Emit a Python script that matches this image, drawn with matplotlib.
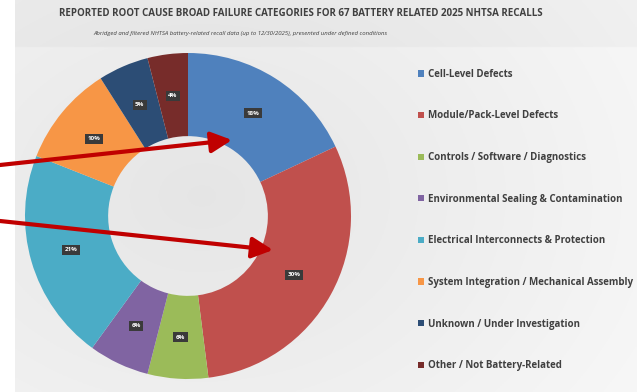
import numpy as np
import matplotlib
matplotlib.use("Agg")
from matplotlib import pyplot as plt

categories = ['Cell-Level Defects', 'Module/Pack-Level Defects', 'Controls / Software / Diagnostics',
              'Environmental Sealing & Contamination', 'Electrical Interconnects & Protection',
              'System Integration / Mechanical Assembly', 'Unknown / Under Investigation',
              'Other / Not Battery-Related']
shares = [18, 30, 6, 6, 21, 10, 5, 4]
colors = ['#4f81bd', '#c0504d', '#9bbb59', '#8064a2', '#4bacc6', '#f79646', '#2c4d75', '#772c2a']

title = 'REPORTED ROOT CAUSE BROAD FAILURE CATEGORIES FOR 67 BATTERY RELATED 2025 NHTSA RECALLS'
subtitle = 'Abridged and filtered NHTSA battery-related recall data (up to 12/30/2025), presented under defined conditions'

plt.rcParams['font.family'] = ['Open Sans', 'DejaVu Sans']

W, H = 637, 392
fig = plt.figure(figsize=(W / 100, H / 100), dpi=100)
fig.patch.set_facecolor('white')

# background gradient (slide look)
bg = fig.add_axes([15 / W, 0, 1 - 15 / W, 1])
yy, xx = np.mgrid[0:1:200j, 0:1:300j]
g = 0.90 + 0.07 * np.clip(np.hypot((xx - 0.3) * 1.2, (yy - 0.5)), 0, 1)
g[yy > 0.88] -= 0.025
bg.imshow(np.dstack([g, g, g]), extent=[0, 1, 0, 1], aspect='auto', origin='lower',
          vmin=0, vmax=1)
bg.axis('off')

fig.text(301 / W, 1 - 14 / H, title, ha='center', va='center', fontsize=7,
         fontweight='bold', color='#404040')
fig.text(240 / W, 1 - 34 / H, subtitle, ha='center', va='center', fontsize=4.3,
         style='italic', color='#404040')

# donut
ax = fig.add_axes([25 / W, 13 / H, 326 / W, 326 / H])
wedges, _ = ax.pie(shares, colors=colors, startangle=90, counterclock=False,
                   radius=1, wedgeprops=dict(width=0.51, edgecolor='none'))
ax.set_xlim(-1, 1)
ax.set_ylim(-1, 1)
ax.set_aspect('equal')
ax.axis('off')

for w, v in zip(wedges, shares):
    mid = np.deg2rad((w.theta1 + w.theta2) / 2)
    r = 0.745
    ax.text(r * np.cos(mid), r * np.sin(mid), f'{v}%', ha='center', va='center',
            fontsize=4.5, fontweight='bold', color='white',
            bbox=dict(boxstyle='square,pad=0.4', fc='#3a3a3a', ec='none'))

# red arrows
arrow = dict(arrowstyle='-|>,head_length=0.9,head_width=0.45', color='#c00000',
             lw=3, mutation_scale=14, shrinkA=0, shrinkB=0)
fig.add_artist(matplotlib.patches.FancyArrowPatch((0, (H - 165) / H), (232 / W, (H - 140) / H),
                                                  transform=fig.transFigure, **arrow))
fig.add_artist(matplotlib.patches.FancyArrowPatch((0, (H - 221) / H), (273 / W, (H - 250) / H),
                                                  transform=fig.transFigure, **arrow))

fig.legend(wedges, categories, loc='upper left', bbox_to_anchor=(413 / W, 1 - 64 / H),
           frameon=False, labelcolor='#404040', handlelength=0.6,
           handleheight=0.6, handletextpad=0.4, labelspacing=3.15, borderpad=0,
           prop=dict(weight='bold', size=7))

fig.savefig('out.png', dpi=100)
